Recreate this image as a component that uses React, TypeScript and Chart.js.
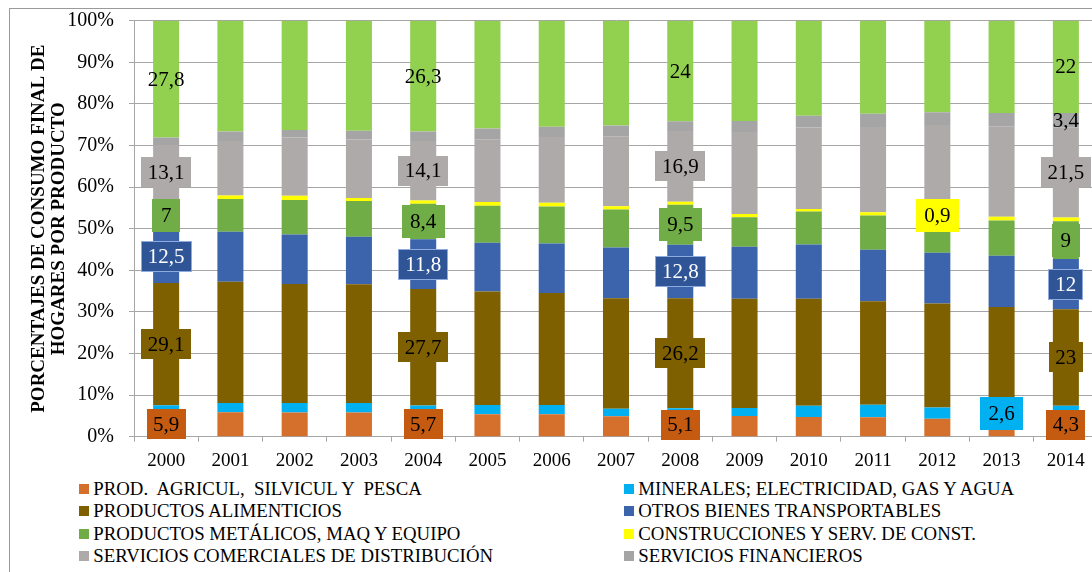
import React, { useEffect, useRef } from 'react';
import { Chart, registerables } from 'chart.js';

Chart.register(...registerables);

const FONT = "'Liberation Serif', 'Times New Roman', serif";
const GRID = '#A6A6A6';

const YEARS = ['2000', '2001', '2002', '2003', '2004', '2005', '2006', '2007', '2008', '2009', '2010', '2011', '2012', '2013', '2014'];
const Y_TICKS = [0, 10, 20, 30, 40, 50, 60, 70, 80, 90, 100];
const Y_TITLE = ['PORCENTAJES DE CONSUMO FINAL DE', 'HOGARES POR PRODUCTO'];

// Series values (raw, per year) — bottom to top of each stacked bar
const AGRICULTURA = [5.9, 5.9, 5.8, 5.8, 5.7, 5.4, 5.4, 4.9, 5.1, 5.0, 4.7, 4.7, 4.3, 4.3, 4.3];
const MINERALES = [1.6, 2.2, 2.3, 2.3, 1.7, 2.2, 2.2, 1.8, 1.7, 1.9, 2.7, 3.0, 2.7, 2.6, 3.1];
const ALIMENTICIOS = [29.1, 29.1, 28.6, 28.5, 27.7, 27.3, 27.0, 26.6, 26.2, 26.2, 25.7, 24.9, 25.0, 24.3, 23];
const OTROS_BIENES = [12.5, 12.0, 11.9, 11.4, 11.8, 11.7, 11.9, 12.2, 12.8, 12.5, 13.0, 12.4, 12.2, 12.3, 12];
const METALICOS = [7, 7.9, 8.3, 8.6, 8.4, 8.9, 8.9, 9.1, 9.5, 7.1, 7.9, 8.2, 8.5, 8.5, 9];
const CONSTRUCCION = [0.3, 0.8, 1.0, 0.7, 0.8, 0.9, 0.9, 0.8, 0.7, 0.8, 0.6, 0.8, 0.9, 0.9, 0.9];
const COMERCIALES = [13.1, 13.1, 14.0, 14.1, 14.1, 15.1, 15.8, 16.8, 16.9, 19.7, 19.6, 20.5, 21.3, 21.7, 21.5];
const FINANCIEROS = [1.8, 2.3, 1.8, 2.1, 2.3, 2.6, 2.5, 2.6, 2.3, 2.6, 2.8, 3.2, 3.1, 3.2, 3.4];
const OTROS_SERVICIOS = [27.8, 26.6, 26.3, 26.4, 26.3, 25.9, 25.5, 25.2, 24, 24.1, 22.8, 22.4, 22.0, 22.2, 22];

// Year indexes whose value is shown as a data label
const AGRICULTURA_LBL = [0, 4, 8, 14];
const MINERALES_LBL = [13];
const ALIMENTICIOS_LBL = [0, 4, 8, 14];
const OTROS_BIENES_LBL = [0, 4, 8, 14];
const METALICOS_LBL = [0, 4, 8, 14];
const CONSTRUCCION_LBL = [12];
const COMERCIALES_LBL = [0, 4, 8, 14];
const FINANCIEROS_LBL = [14];
const OTROS_SERVICIOS_LBL = [0, 4, 8, 14];

type LabelStyle = { bg: string | null; fg: string; padX: number; h: number; border?: string };
type Series = { name: string; values: number[]; color: string; labelAt: number[]; label: LabelStyle; inLegend: boolean };

const SERIES: Series[] = [
  { name: 'PROD.  AGRICUL,  SILVICUL Y  PESCA', values: AGRICULTURA, color: '#D4702B', labelAt: AGRICULTURA_LBL, label: { bg: '#C55A11', fg: '#000', padX: 6.5, h: 30 }, inLegend: true },
  { name: 'MINERALES; ELECTRICIDAD, GAS Y AGUA', values: MINERALES, color: '#00B0F0', labelAt: MINERALES_LBL, label: { bg: '#00B0F0', fg: '#000', padX: 8.5, h: 33 }, inLegend: true },
  { name: 'PRODUCTOS ALIMENTICIOS', values: ALIMENTICIOS, color: '#7F6000', labelAt: ALIMENTICIOS_LBL, label: { bg: '#7F6000', fg: '#000', padX: 6.5, h: 30 }, inLegend: true },
  { name: 'OTROS BIENES TRANSPORTABLES', values: OTROS_BIENES, color: '#3B64AD', labelAt: OTROS_BIENES_LBL, label: { bg: '#2F5597', fg: '#FFF', padX: 7, h: 31, border: '#8FAADC' }, inLegend: true },
  { name: 'PRODUCTOS METÁLICOS, MAQ Y EQUIPO', values: METALICOS, color: '#70AD47', labelAt: METALICOS_LBL, label: { bg: '#70AD47', fg: '#000', padX: 8.5, h: 33 }, inLegend: true },
  { name: 'CONSTRUCCIONES Y SERV. DE CONST.', values: CONSTRUCCION, color: '#FFFF00', labelAt: CONSTRUCCION_LBL, label: { bg: '#FFFF00', fg: '#000', padX: 8.5, h: 33 }, inLegend: true },
  { name: 'SERVICIOS COMERCIALES DE DISTRIBUCIÓN', values: COMERCIALES, color: '#AEAAAA', labelAt: COMERCIALES_LBL, label: { bg: '#AEAAAA', fg: '#000', padX: 6.5, h: 30 }, inLegend: true },
  { name: 'SERVICIOS FINANCIEROS', values: FINANCIEROS, color: '#A5A5A5', labelAt: FINANCIEROS_LBL, label: { bg: null, fg: '#000', padX: 0, h: 0 }, inLegend: true },
  { name: 'OTROS SERVICIOS', values: OTROS_SERVICIOS, color: '#92D050', labelAt: OTROS_SERVICIOS_LBL, label: { bg: null, fg: '#000', padX: 0, h: 0 }, inLegend: false },
];

const fmt = (v: number) => String(v).replace('.', ',');

const segmentLabels = {
  id: 'segmentLabels',
  afterDatasetsDraw(chart: any) {
    const ctx = chart.ctx as CanvasRenderingContext2D;
    ctx.save();
    ctx.font = `21px ${FONT}`;
    ctx.textAlign = 'center';
    ctx.textBaseline = 'middle';
    SERIES.forEach((s, di) => {
      const meta = chart.getDatasetMeta(di);
      s.labelAt.forEach((i) => {
        const el = meta.data[i];
        if (!el) return;
        const cx = el.x;
        let cy = (el.y + el.base) / 2;
        const text = fmt(s.values[i]);
        const tw = ctx.measureText(text).width;
        const st = s.label;
        if (st.bg) {
          const w = tw + 2 * st.padX;
          const h = st.h;
          let top = cy - h / 2;
          const maxBottom = chart.chartArea.bottom + 3;
          if (top + h > maxBottom) top = maxBottom - h;
          cy = top + h / 2;
          ctx.fillStyle = st.bg;
          ctx.fillRect(Math.round(cx - w / 2), Math.round(top), Math.round(w), h);
          if (st.border) {
            ctx.strokeStyle = st.border;
            ctx.lineWidth = 1;
            ctx.strokeRect(Math.round(cx - w / 2) + 0.5, Math.round(top) + 0.5, Math.round(w) - 1, h - 1);
          }
        }
        ctx.fillStyle = st.fg;
        ctx.fillText(text, cx, cy + 1);
      });
    });
    ctx.restore();
  },
};

export default function App() {
  const ref = useRef<HTMLCanvasElement | null>(null);

  useEffect(() => {
    if (!ref.current) return;
    const totals = YEARS.map((_, i) => SERIES.reduce((sum, s) => sum + s.values[i], 0));
    const chart = new Chart(ref.current, {
      type: 'bar',
      data: {
        labels: YEARS,
        datasets: SERIES.map((s) => ({
          label: s.name,
          data: s.values.map((v, i) => (v / totals[i]) * 100),
          backgroundColor: s.color,
          borderWidth: 0,
          barPercentage: 0.405,
          categoryPercentage: 1,
        })),
      },
      options: {
        responsive: false,
        animation: false,
        devicePixelRatio: 1,
        layout: { padding: { top: 20.7, right: 22, bottom: 0, left: 0 } },
        plugins: {
          legend: { display: false },
          tooltip: { enabled: false },
        },
        scales: {
          x: {
            stacked: true,
            offset: true,
            grid: { offset: true, drawOnChartArea: false, drawTicks: true, tickLength: 5, color: GRID },
            border: { display: true, color: GRID },
            ticks: { font: { family: FONT, size: 19 }, color: '#000', padding: 8, maxRotation: 0, autoSkip: false },
            afterFit: (s: any) => { s.height = 33.3; },
          },
          y: {
            stacked: true,
            min: 0,
            max: 100,
            afterBuildTicks: (s: any) => { s.ticks = Y_TICKS.map((v) => ({ value: v })); },
            grid: { color: GRID, tickLength: 5 },
            border: { display: true, color: GRID },
            ticks: { font: { family: FONT, size: 20 }, color: '#000', padding: 15, callback: (v: any) => v + '%' },
            title: {
              display: true,
              text: Y_TITLE,
              color: '#000',
              font: { family: FONT, size: 19, weight: 'bold', lineHeight: 1.05 },
              padding: { top: 29, bottom: 0 },
            },
            afterFit: (s: any) => {
              s.width = 134;
              s.paddingTop = 0;
              s.paddingBottom = 0;
            },
          },
        },
      } as any,
      plugins: [segmentLabels],
    });
    return () => chart.destroy();
  }, []);

  return (
    <div style={{ position: 'fixed', left: 0, top: 0, width: 1092, height: 572, overflow: 'hidden', background: '#fff' }}>
      <div style={{ position: 'absolute', left: 9, top: 8, width: 1200, height: 700, borderTop: '1px solid #9A9A9A', borderLeft: '1px solid #9A9A9A' }} />
      <canvas ref={ref} width={1120} height={470} style={{ position: 'absolute', left: 0, top: 0 }} />
      {SERIES.filter((s) => s.inLegend).map((s, k) => {
        const col = k % 2;
        const row = Math.floor(k / 2);
        return (
          <div
            key={s.name}
            style={{
              position: 'absolute',
              left: col ? 624 : 79,
              top: 489 + row * 22.4 - 11,
              height: 22,
              display: 'flex',
              alignItems: 'center',
              whiteSpace: 'pre',
              fontFamily: FONT,
              fontSize: 18.8,
              color: '#000',
            }}
          >
            <span style={{ display: 'inline-block', width: 10, height: 10, background: s.color, marginRight: 4.3 }} />
            {s.name}
          </div>
        );
      })}
    </div>
  );
}
